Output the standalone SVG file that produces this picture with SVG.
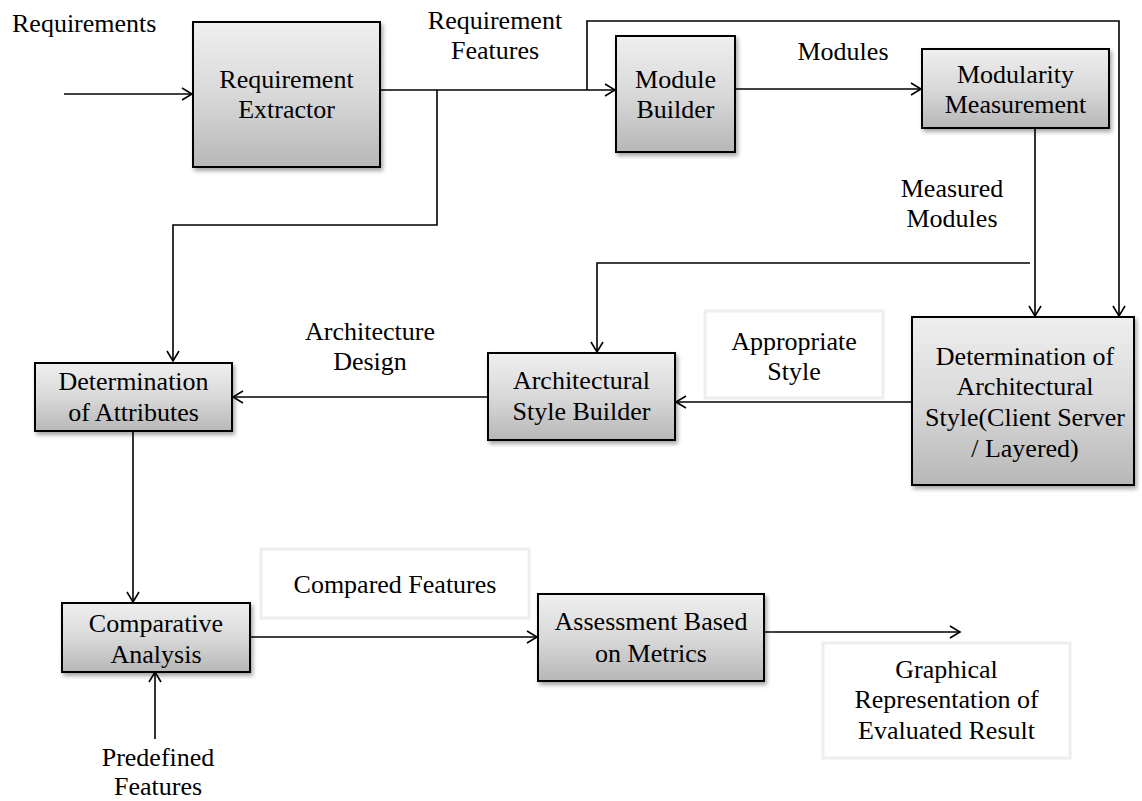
<svg xmlns="http://www.w3.org/2000/svg" width="1142" height="801" viewBox="0 0 1142 801">
  <defs>
    <linearGradient id="boxGrad" x1="0" y1="0" x2="0" y2="1">
      <stop offset="0" stop-color="#efefef"/>
      <stop offset="0.5" stop-color="#d9d9d9"/>
      <stop offset="1" stop-color="#b7b7b7"/>
    </linearGradient>
    <filter id="shadow" x="-10%" y="-10%" width="130%" height="130%">
      <feDropShadow dx="2" dy="3" stdDeviation="2" flood-color="#000" flood-opacity="0.35"/>
    </filter>
    <marker id="arrow" markerUnits="userSpaceOnUse" markerWidth="14" markerHeight="14" refX="12" refY="7" orient="auto">
      <path d="M2,1 L12,7 L2,13" fill="none" stroke="#000" stroke-width="1.6"/>
    </marker>
  </defs>
  <style>
    .box { fill: url(#boxGrad); stroke: #000; stroke-width: 2; filter: url(#shadow); }
    .lbox { fill: #fff; stroke: #eeeeee; stroke-width: 3; }
    .t { font-family: "Liberation Serif", "Times New Roman", serif; font-size: 26px; fill: #000; }
    .c { text-anchor: middle; }
    .conn { fill: none; stroke: #000; stroke-width: 1.6; }
    .arr { marker-end: url(#arrow); }
  </style>
  <rect width="1142" height="801" fill="#fff"/>

  <g id="connectors">
    <path class="conn arr" d="M64,94 H192"/>
    <path class="conn arr" d="M380,90 H615"/>
    <path class="conn arr" d="M587,90 V21 H1119 V316"/>
    <path class="conn arr" d="M437,90 V225 H173 V361"/>
    <path class="conn arr" d="M735,89 H921"/>
    <path class="conn arr" d="M1035,128 V316"/>
    <path class="conn arr" d="M1030,263 H597 V352"/>
    <path class="conn arr" d="M911,402 H676"/>
    <path class="conn arr" d="M488,397 H233"/>
    <path class="conn arr" d="M133,431 V602"/>
    <path class="conn arr" d="M155,739 V672"/>
    <path class="conn arr" d="M250,637 H537"/>
    <path class="conn arr" d="M764,632 H960"/>
  </g>

  <g id="label-requirements">
    <text class="t" x="12" y="32">Requirements</text>
  </g>
  <g id="label-requirement-features">
    <text class="t c" x="495" y="29">Requirement</text>
    <text class="t c" x="495" y="59">Features</text>
  </g>
  <g id="label-modules">
    <text class="t c" x="843" y="60">Modules</text>
  </g>
  <g id="label-measured-modules">
    <text class="t c" x="952" y="197">Measured</text>
    <text class="t c" x="952" y="227">Modules</text>
  </g>
  <g id="label-architecture-design">
    <text class="t c" x="370" y="340">Architecture</text>
    <text class="t c" x="370" y="370">Design</text>
  </g>
  <g id="label-predefined-features">
    <text class="t c" x="158" y="766">Predefined</text>
    <text class="t c" x="158" y="795">Features</text>
  </g>

  <g id="node-requirement-extractor">
    <rect class="box" x="193" y="22" width="187" height="145"/>
    <text class="t c" x="286.5" y="88">Requirement</text>
    <text class="t c" x="286.5" y="118">Extractor</text>
  </g>
  <g id="node-module-builder">
    <rect class="box" x="616" y="36" width="119" height="116"/>
    <text class="t c" x="675.5" y="88">Module</text>
    <text class="t c" x="675.5" y="118">Builder</text>
  </g>
  <g id="node-modularity-measurement">
    <rect class="box" x="922" y="49" width="187" height="79"/>
    <text class="t c" x="1015.5" y="83">Modularity</text>
    <text class="t c" x="1015.5" y="113">Measurement</text>
  </g>
  <g id="node-determination-style">
    <rect class="box" x="912" y="317" width="222" height="168"/>
    <text class="t c" x="1025" y="365">Determination of</text>
    <text class="t c" x="1025" y="395">Architectural</text>
    <text class="t c" x="1025" y="426">Style(Client Server</text>
    <text class="t c" x="1025" y="457">/ Layered)</text>
  </g>
  <g id="node-appropriate-style">
    <rect class="lbox" x="705" y="311" width="178" height="87"/>
    <text class="t c" x="794" y="350">Appropriate</text>
    <text class="t c" x="794" y="380">Style</text>
  </g>
  <g id="node-architectural-style-builder">
    <rect class="box" x="488" y="353" width="187" height="87"/>
    <text class="t c" x="581.5" y="389">Architectural</text>
    <text class="t c" x="581.5" y="420">Style Builder</text>
  </g>
  <g id="node-determination-attributes">
    <rect class="box" x="35" y="363" width="197" height="68"/>
    <text class="t c" x="133.5" y="390">Determination</text>
    <text class="t c" x="133.5" y="421">of Attributes</text>
  </g>
  <g id="node-comparative-analysis">
    <rect class="box" x="62" y="603" width="188" height="69"/>
    <text class="t c" x="156" y="632">Comparative</text>
    <text class="t c" x="156" y="663">Analysis</text>
  </g>
  <g id="node-compared-features">
    <rect class="lbox" x="261" y="549" width="268" height="69"/>
    <text class="t c" x="395" y="593">Compared Features</text>
  </g>
  <g id="node-assessment">
    <rect class="box" x="538" y="594" width="226" height="87"/>
    <text class="t c" x="651" y="630">Assessment Based</text>
    <text class="t c" x="651" y="662">on Metrics</text>
  </g>
  <g id="node-graphical">
    <rect class="lbox" x="823" y="643" width="247" height="115"/>
    <text class="t c" x="946.5" y="678">Graphical</text>
    <text class="t c" x="946.5" y="708">Representation of</text>
    <text class="t c" x="946.5" y="739">Evaluated Result</text>
  </g>
</svg>
